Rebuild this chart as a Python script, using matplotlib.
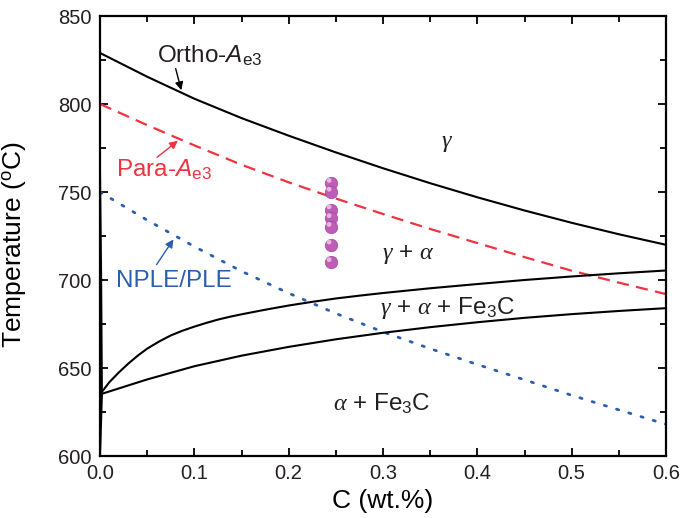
import matplotlib
matplotlib.use("Agg")
import matplotlib.pyplot as plt
import matplotlib.transforms as mtransforms
from matplotlib.ticker import MultipleLocator, FormatStrFormatter

plt.rcParams['font.family'] = ['Liberation Sans', 'DejaVu Sans']
plt.rcParams['mathtext.fontset'] = 'custom'
plt.rcParams['mathtext.rm'] = 'Liberation Sans'
plt.rcParams['mathtext.sf'] = 'Liberation Sans'
plt.rcParams['mathtext.it'] = 'Liberation Serif:italic'
plt.rcParams['mathtext.bf'] = 'Liberation Sans:italic'
plt.rcParams['text.color'] = '#231f20'

# ---- data ----
grid_c = [0.0, 0.05, 0.1, 0.15, 0.2, 0.25, 0.3, 0.35, 0.4, 0.45, 0.5, 0.55, 0.6]
ortho_t = [829, 815.5, 803, 792, 782, 772.5, 763.5, 755, 747, 739.5, 732.5, 726, 720]
para_t = [800, 788, 776.5, 765.5, 755.5, 746.3, 737.5, 729, 721, 713, 705.3, 698.5, 692]
ple_t = [750, 734, 719, 705, 692.5, 681, 670.5, 661, 652, 643.3, 634.5, 626.2, 618]
lower_t = [635, 643.5, 651, 657, 662, 666.3, 670, 673.2, 676, 678.5, 680.6, 682.4, 684]

upper_c = [0.0, 0.01, 0.02, 0.03, 0.04, 0.05, 0.0625, 0.075, 0.0875, 0.1, 0.1125,
           0.125, 0.1375, 0.15, 0.175, 0.2, 0.225, 0.25, 0.275,
           0.3, 0.35, 0.4, 0.45, 0.5, 0.55, 0.6]
upper_t = [635, 642, 647.5, 652.5, 657, 661, 665, 668.5, 671.2, 673.5, 675.6,
           677.5, 679.1, 680.5, 683.1, 685.5, 687.6, 689.5, 691.1,
           692.6, 695.3, 697.7, 700, 702, 703.8, 705.4]

ferrite_c = [0.0, 0.002, 0.0012, 0.0]
ferrite_t = [600, 635, 700, 760]

exp_c = [0.245, 0.245, 0.245, 0.245, 0.245, 0.245, 0.245]
exp_t = [755, 750, 740, 735, 730, 720, 710]

fig = plt.figure(figsize=(6.81, 5.18), dpi=100)
ax = fig.add_axes([100/681, 1-456/518, (666-100)/681, (456-16)/518])

red = '#ef3340'
blue = '#2b5fae'

ax.plot(grid_c, ortho_t, color='black', lw=1.5)
ax.plot(grid_c, para_t, color=red, lw=1.6, dashes=(5.5, 3.3))
ax.plot(grid_c, ple_t, color=blue, lw=2.0, linestyle=(0, (0.8, 3.8)), dash_capstyle='round')
ax.plot(upper_c, upper_t, color='black', lw=1.5)
ax.plot(grid_c, lower_t, color='black', lw=1.5)
ax.plot(ferrite_c, ferrite_t, color='black', lw=1.5)

ax.scatter(exp_c, exp_t, s=80, color='#bf5cb7', edgecolors='#a04a9c', linewidths=0.5, zorder=5)
hl = mtransforms.offset_copy(ax.transData, fig=fig, x=-1.5, y=2.0, units='points')
ax.scatter(exp_c, exp_t, s=12, color='#f0cdea', edgecolors='none', alpha=0.8, zorder=6, transform=hl)

ax.set_xlim(0, 0.6)
ax.set_ylim(600, 850)
ax.xaxis.set_major_locator(MultipleLocator(0.1))
ax.xaxis.set_minor_locator(MultipleLocator(0.05))
ax.yaxis.set_major_locator(MultipleLocator(50))
ax.yaxis.set_minor_locator(MultipleLocator(25))
ax.xaxis.set_major_formatter(FormatStrFormatter('%.1f'))
ax.tick_params(which='both', direction='in', top=True, right=True, width=1.3,
               labelsize=14.5, labelcolor='#231f20')
ax.tick_params(which='major', length=6, pad=6)
ax.tick_params(which='minor', length=4)
for s in ax.spines.values():
    s.set_linewidth(1.6)

ax.set_xlabel('C (wt.%)', fontsize=19, labelpad=4)
ax.set_ylabel('Temperature ($^{\\mathrm{o}}$C)', fontsize=19, labelpad=6)
ax.yaxis.set_label_coords(-0.128, 0.48)

tsz = 17.5
ax.text(0.0604, 823.3, 'Ortho-$\\mathbf{A}_{\\mathrm{e3}}$', fontsize=tsz, ha='left', va='baseline')
ax.annotate('', xy=(0.0869, 806.3), xytext=(0.0795, 821.6),
            arrowprops=dict(arrowstyle='-|>', color='black', lw=1.0, mutation_scale=12))
ax.text(0.017, 758.7, 'Para-$\\mathbf{A}_{\\mathrm{e3}}$', fontsize=tsz, ha='left', va='baseline', color=red)
ax.annotate('', xy=(0.0848, 780.1), xytext=(0.0583, 768.75),
            arrowprops=dict(arrowstyle='-|>', color=red, lw=1.0, mutation_scale=12))
ax.text(0.017, 696.2, 'NPLE/PLE', fontsize=tsz, ha='left', va='baseline', color=blue)
ax.annotate('', xy=(0.0795, 724.4), xytext=(0.0583, 707.4),
            arrowprops=dict(arrowstyle='-|>', color=blue, lw=1.0, mutation_scale=12))

ax.text(0.368, 777.8, '$\\gamma$', fontsize=tsz, ha='center', va='center')
ax.text(0.299, 711.7, '$\\gamma$ + $\\alpha$', fontsize=tsz, ha='left', va='baseline')
ax.text(0.297, 680.7, '$\\gamma$ + $\\alpha$ + Fe$_3$C', fontsize=tsz, ha='left', va='baseline')
ax.text(0.247, 625.7, '$\\alpha$ + Fe$_3$C', fontsize=tsz, ha='left', va='baseline')

fig.savefig('out.png', dpi=100)
